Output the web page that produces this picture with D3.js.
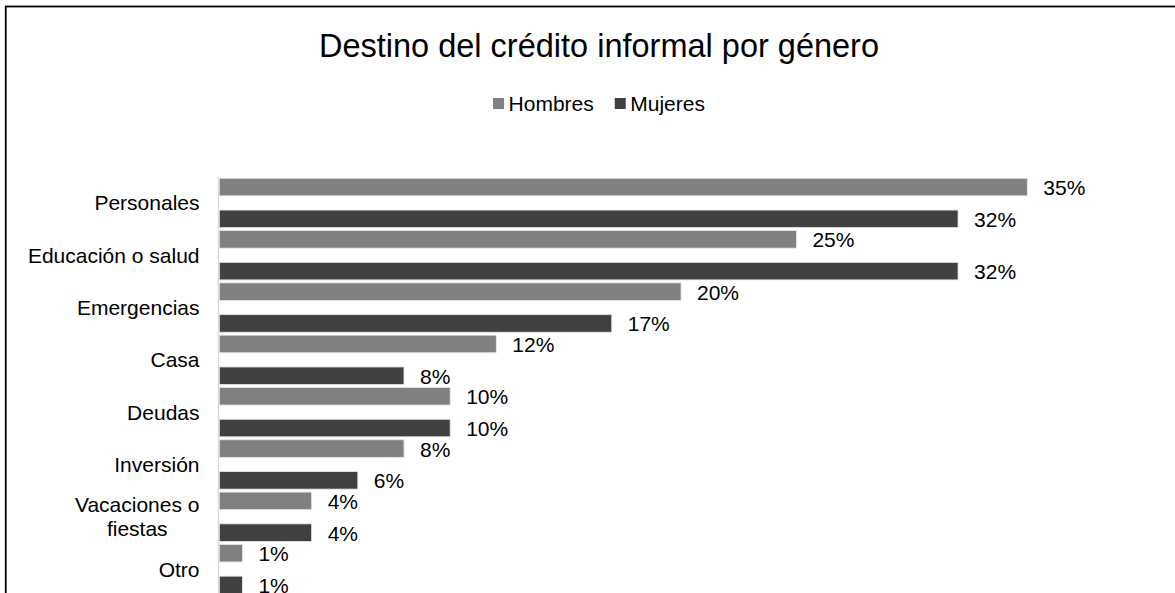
<!DOCTYPE html>
<html>
<head>
<meta charset="utf-8">
<script src="https://cdn.jsdelivr.net/npm/d3@7"></script>
<style>
  html, body { margin: 0; padding: 0; background: #fff; overflow: hidden; }
  svg { display: block; font-family: "Liberation Sans", Arial, sans-serif; }
</style>
</head>
<body>
<svg id="chart" width="1175" height="593"></svg>
<script>
// Destino del crédito informal, por género (% de personas)
const categories = ["Personales", "Educación o salud", "Emergencias", "Casa", "Deudas", "Inversión", "Vacaciones o fiestas", "Otro"];
const seriesNames = ["Hombres", "Mujeres"];
const hombres = [0.35, 0.25, 0.20, 0.12, 0.10, 0.08, 0.04, 0.01];
const mujeres = [0.32, 0.32, 0.17, 0.08, 0.10, 0.06, 0.04, 0.01];
const colors = ["#808080", "#404040"];

const svg = d3.select("#chart");

// outer chart frame (continues past the right and bottom edges)
svg.append("rect")
  .attr("x", 5.75).attr("y", 6.5)
  .attr("width", 1250).attr("height", 700)
  .attr("fill", "#fff").attr("stroke", "#000").attr("stroke-width", 1.8);

const centerX = 599;

svg.append("text")
  .attr("x", centerX).attr("y", 56.5)
  .attr("text-anchor", "middle")
  .attr("font-size", "32.5px")
  .attr("fill", "#000")
  .text("Destino del crédito informal por género");

// legend
const legend = svg.append("g");
let lx = 0;
seriesNames.forEach((name, i) => {
  const g = legend.append("g").attr("transform", `translate(${lx},0)`);
  g.append("rect").attr("x", 0).attr("y", -5.5).attr("width", 11).attr("height", 11).attr("fill", colors[i]);
  const t = g.append("text").attr("x", 15.5).attr("y", 7.5)
    .attr("font-size", "21px").attr("fill", "#000").text(name);
  lx += 15.5 + t.node().getComputedTextLength() + 21;
});
const legendW = lx - 21;
legend.attr("transform", `translate(${centerX - legendW / 2},103.5)`);

// scales
const x = d3.scaleLinear().domain([0, 0.35]).range([219.3, 1027.3]);
const y = d3.scaleBand().domain(categories).range([176.8, 595.2]).padding(0);
const ySub = d3.scaleBand().domain(seriesNames).range([0, y.bandwidth()])
  .paddingInner(0.448).paddingOuter(0.047);

const rows = categories.map((c, i) => ({ cat: c, values: [hombres[i], mujeres[i]] }));

const groups = svg.append("g").selectAll("g")
  .data(rows).join("g")
  .attr("transform", d => `translate(0,${y(d.cat)})`);

groups.selectAll("rect")
  .data(d => d.values.map((v, j) => ({ s: seriesNames[j], v, j })))
  .join("rect")
  .attr("x", x(0))
  .attr("y", d => ySub(d.s))
  .attr("width", d => x(d.v) - x(0))
  .attr("height", ySub.bandwidth())
  .attr("fill", d => colors[d.j])
  .attr("stroke", "#e6e6e6").attr("stroke-width", 0.8);

const fmt = d3.format(".0%");
groups.selectAll("text.val")
  .data(d => d.values.map((v, j) => ({ s: seriesNames[j], v, j })))
  .join("text").attr("class", "val")
  .attr("x", d => x(d.v) + 16)
  .attr("y", d => ySub(d.s) + ySub.bandwidth() / 2 + 8)
  .attr("font-size", "21px").attr("fill", "#000")
  .text(d => fmt(d.v));

// category axis line
svg.append("line")
  .attr("x1", 218.5).attr("x2", 218.5)
  .attr("y1", 176.8).attr("y2", 600)
  .attr("stroke", "#d9d9d9").attr("stroke-width", 1.3);

// category labels: wrapped to fit the left margin, block right-aligned, lines centred
const labelWidth = 175;
const labelRight = 199.5;
svg.append("g").selectAll("text")
  .data(categories).join("text")
  .attr("font-size", "21px").attr("fill", "#000")
  .each(function (c) {
    const el = d3.select(this);
    const words = c.split(" ");
    const lines = [];
    let line = [];
    const probe = el.append("tspan");
    const measure = s => { probe.text(s); return probe.node().getComputedTextLength(); };
    words.forEach(w => {
      const test = line.concat(w).join(" ");
      if (measure(test) > labelWidth && line.length) {
        lines.push(line.join(" "));
        line = [w];
      } else {
        line.push(w);
      }
    });
    lines.push(line.join(" "));
    const maxW = d3.max(lines, measure);
    probe.remove();
    const cy = y(c) + y.bandwidth() / 2;
    const lh = 24;
    el.attr("text-anchor", "middle");
    lines.forEach((ln, k) => {
      el.append("tspan")
        .attr("x", labelRight - maxW / 2)
        .attr("y", cy + (k - (lines.length - 1) / 2) * lh + 7.5)
        .text(ln);
    });
  });
</script>
</body>
</html>
